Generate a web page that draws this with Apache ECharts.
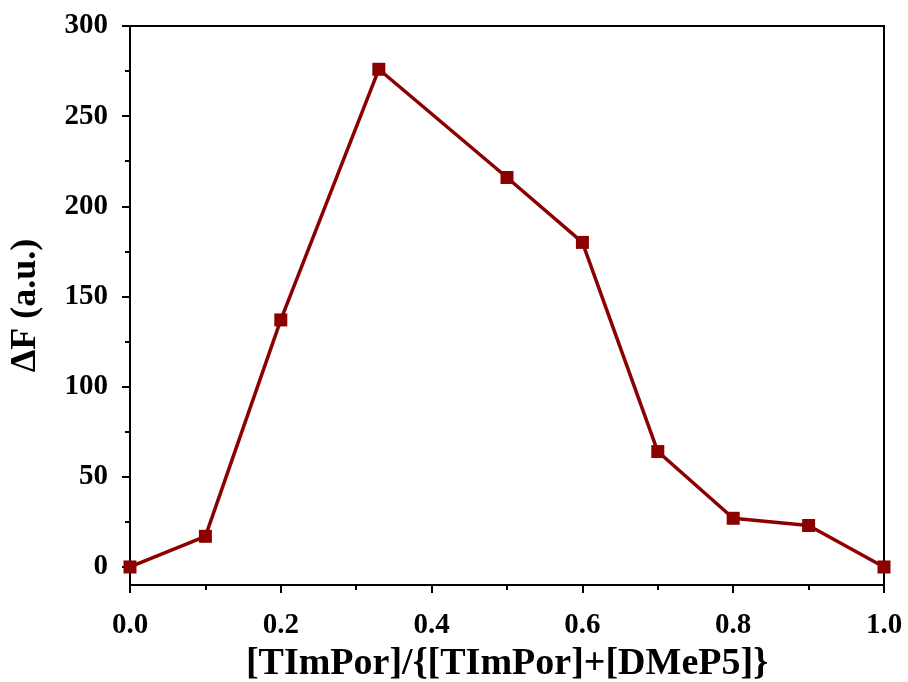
<!DOCTYPE html>
<html>
<head>
<meta charset="utf-8">
<script src="https://cdn.jsdelivr.net/npm/echarts@6/dist/echarts.min.js"></script>
<style>
  html, body { margin: 0; padding: 0; background: #fff; }
  #chart { width: 908px; height: 682px; }
</style>
</head>
<body>
<div id="chart"></div>
<script>
// data
const ratios = [0, 0.1, 0.2, 0.33, 0.5, 0.6, 0.7, 0.8, 0.9, 1.0]
const deltaF = [0, 17, 137, 276, 216, 180, 64, 27, 23, 0]
const yMajorTicks = [0, 50, 100, 150, 200, 250, 300]
const yMinorTicks = [25, 75, 125, 175, 225, 275]

const font = '"Liberation Serif", "Times New Roman", serif'
const ink = '#000'
const red = '#8b0000'

const chart = echarts.init(document.getElementById('chart'))

const option = {
  animation: false,
  grid: {
    left: 130, top: 26, right: 24, bottom: 97,
    outerBoundsMode: 'none',
    containLabel: false,
    show: true, borderColor: ink, borderWidth: 2, backgroundColor: 'transparent'
  },
  xAxis: {
    type: 'value',
    min: 0, max: 1, interval: 0.2,
    name: '[TImPor]/{[TImPor]+[DMeP5]}',
    nameLocation: 'middle',
    nameGap: 46,
    nameTextStyle: { fontFamily: font, fontWeight: 'bold', fontSize: 38, color: ink },
    axisLine: { show: true, onZero: false, lineStyle: { color: ink, width: 2 } },
    axisTick: { show: true, length: 8, lineStyle: { color: ink, width: 2 } },
    minorTick: { show: true, splitNumber: 2, length: 5, lineStyle: { color: ink, width: 2 } },
    splitLine: { show: false },
    minorSplitLine: { show: false },
    axisLabel: {
      margin: 26,
      fontFamily: font, fontWeight: 'bold', fontSize: 29, color: ink,
      formatter: v => v.toFixed(1)
    }
  },
  yAxis: [
    {
      type: 'value',
      min: -10, max: 300,
      name: 'ΔF (a.u.)',
      nameLocation: 'middle',
      nameGap: 86,
      nameTextStyle: { fontFamily: font, fontWeight: 'bold', fontSize: 36, color: ink },
      axisLine: { show: true, lineStyle: { color: ink, width: 2 } },
      axisTick: { show: true, length: 8, customValues: yMajorTicks, lineStyle: { color: ink, width: 2 } },
      splitLine: { show: false },
      axisLabel: {
        margin: 22,
        customValues: yMajorTicks,
        fontFamily: font, fontWeight: 'bold', fontSize: 29, color: ink
      }
    },
    {
      type: 'value',
      min: -10, max: 300,
      position: 'left',
      axisLine: { show: false },
      axisTick: { show: true, length: 5, customValues: yMinorTicks, lineStyle: { color: ink, width: 2 } },
      splitLine: { show: false },
      axisLabel: { show: false }
    }
  ],
  series: [
    {
      type: 'line',
      data: ratios.map((r, i) => [r, deltaF[i]]),
      symbol: 'rect',
      symbolSize: 13,
      itemStyle: { color: red },
      lineStyle: { color: red, width: 3.5 },
      clip: false
    }
  ]
}

chart.setOption(option)
</script>
</body>
</html>
